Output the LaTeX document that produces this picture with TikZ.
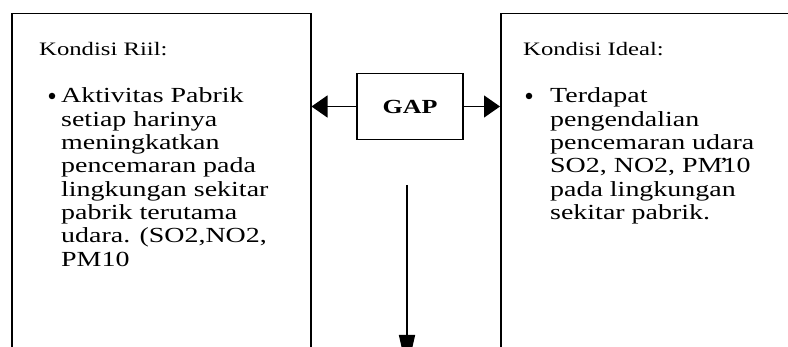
\documentclass[tikz,border=0pt]{standalone}
\usepackage{fontspec}
\usepackage{graphicx}
\setmainfont{Liberation Serif}
\usetikzlibrary{arrows.meta}
% left-aligned block of lines, baseline at the first line, fixed line pitch
\newcommand{\linesblock}[1]{\vtop{\lineskiplimit=-100pt\relax\halign{##\hfil\cr#1\crcr}}}
% text set slightly wide
\newcommand{\wide}[1]{\scalebox{1.3}[1]{#1}}
\begin{document}
\begin{tikzpicture}[x=1pt,y=-1pt,
  frame/.style={draw,line width=1.5pt,rectangle,inner sep=0pt,anchor=north west},
  conn/.style={line width=1.3pt,-{Triangle[length=16pt,width=22pt]}},
  headtext/.style={anchor=base west,inner sep=0pt,font=\fontsize{19}{23.3}\selectfont},
  bodytext/.style={anchor=base west,inner sep=0pt,font=\fontsize{21.5}{23.3}\selectfont},
  dot/.style={circle,fill,inner sep=0pt,minimum size=6.5pt},
  gapbox/.style={draw,line width=1.3pt,rectangle,inner sep=0pt,minimum width=106pt,minimum height=66pt,font=\fontsize{20}{24}\selectfont\bfseries},
]
\useasboundingbox (0,0) rectangle (788,347);

% the two open frames, running past the lower edge
\node[frame,minimum width=299pt,minimum height=400pt] (riil) at (11,13) {};
\node[frame,minimum width=320pt,minimum height=400pt] (ideal) at (500,13) {};

% left frame: real conditions
\node[headtext] (riilhead) at (39,56) {\wide{Kondisi Riil:}};
\node[dot] (riildot) at (52,96) {};
\node[bodytext] (riilbody) at (61,103) {\wide{\linesblock{%
Aktivitas Pabrik\cr
setiap harinya\cr
meningkatkan\cr
pencemaran pada\cr
lingkungan sekitar\cr
pabrik terutama\cr
udara. (SO2,NO2,\cr
PM10}}};

% right frame: ideal conditions
\node[headtext] (idealhead) at (523,56) {\wide{Kondisi Ideal:}};
\node[dot] (idealdot) at (529,96) {};
\node[bodytext] (idealbody) at (550,103) {\wide{\linesblock{%
Terdapat\cr
pengendalian\cr
pencemaran udara\cr
SO2, NO2, PM\rlap{\kern-2.5pt’}10\cr
pada lingkungan\cr
sekitar pabrik.}}};

% gap box and its arrows
\node[gapbox] (gap) at (410,106.5) {\wide{GAP}};
\draw[conn] (gap.west) -- (gap.west -| riil.east);
\draw[conn] (gap.east) -- (gap.east -| ideal.west);

% downward arrow
\coordinate (dtop) at (407,185);
\coordinate (dtip) at (407,371);
\draw[line width=1.3pt,-{Triangle[length=36pt,width=16pt]}] (dtop) -- (dtip);
\end{tikzpicture}
\end{document}
